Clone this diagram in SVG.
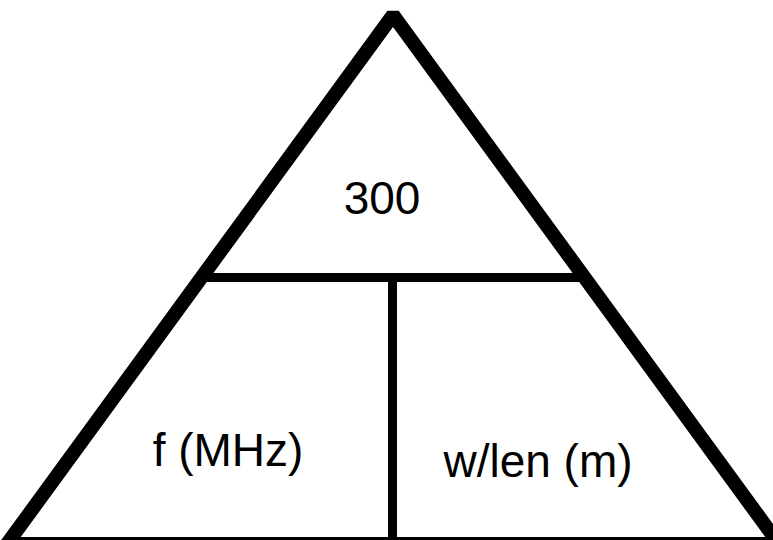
<svg xmlns="http://www.w3.org/2000/svg" width="773" height="540" viewBox="0 0 773 540">
<style>
.edge{fill:none;stroke:#000;stroke-width:14;stroke-linejoin:bevel}
.div{fill:none;stroke:#000;stroke-width:9}
.lbl{font-family:"Liberation Sans",Arial,sans-serif;font-size:46px;fill:#000;text-anchor:middle}
</style>
<rect width="773" height="540" fill="#fff"/>
<g id="connectors">
<path class="div" d="M201 277.5H585"/>
<path class="div" d="M392.5 277.5V540"/>
<path class="edge" d="M393 15L7 544H779Z"/>
</g>
<g id="top"><text class="lbl" x="382" y="214">300</text></g>
<g id="freq"><text class="lbl" x="228" y="466">f (MHz)</text></g>
<g id="wavelength"><text class="lbl" x="538" y="477">w/len (m)</text></g>
</svg>
